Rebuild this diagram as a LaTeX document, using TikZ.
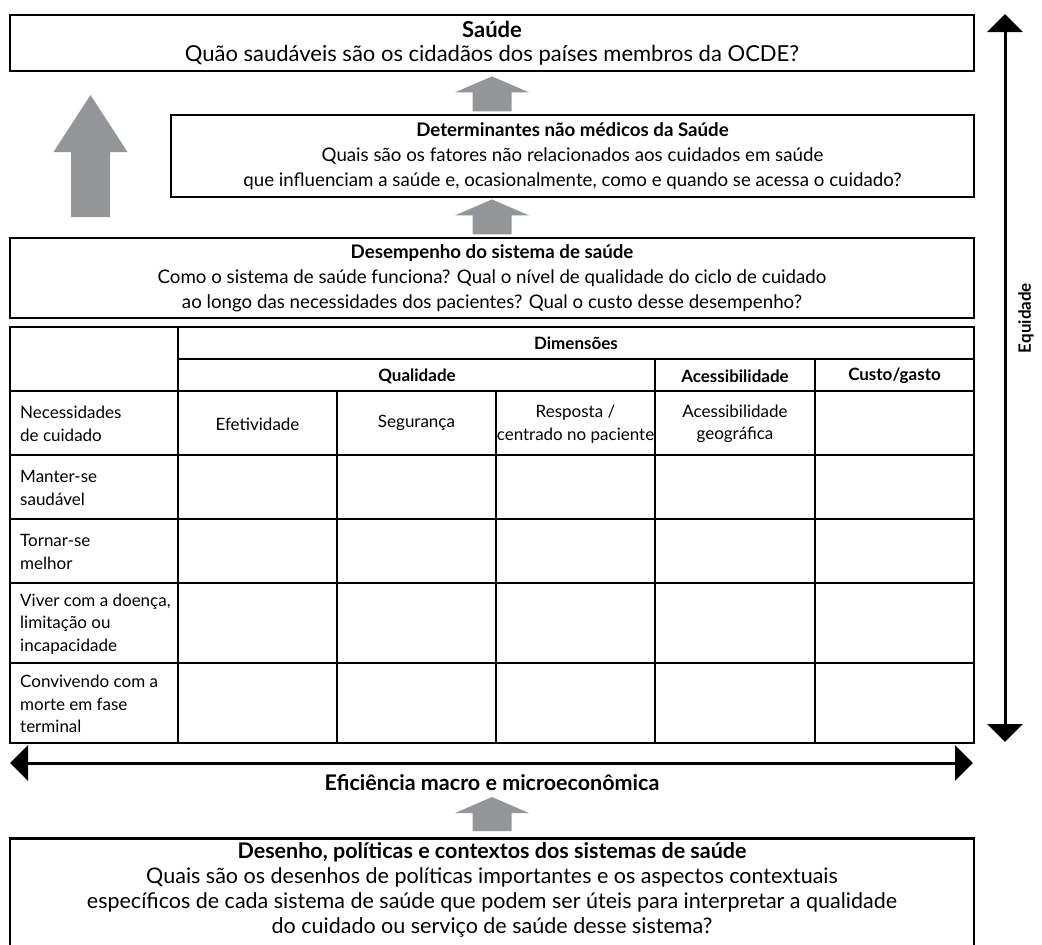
\documentclass[tikz,border=0pt]{standalone}
\usepackage{fontspec}
\setmainfont{Lato}
\usepackage{tikz}
\usetikzlibrary{arrows.meta,positioning,calc}
\definecolor{arrowgray}{RGB}{147,149,152}

\begin{document}
\begin{tikzpicture}[x=1pt, y=-1pt,
    box/.style={draw, line width=1.2pt, minimum width=964pt, inner sep=2pt, align=center,
                font=\fontsize{18.7}{25}\selectfont},
    thickbox/.style={box, line width=2.5pt},
    cell/.style={font=\fontsize{17}{22.5}\selectfont, align=center, inner sep=0pt},
    rowlabel/.style={cell, align=left, anchor=west},
    head/.style={cell, font=\fontsize{17}{22.5}\selectfont\bfseries},
    grid/.style={line width=1.3pt},
    axis/.style={{Triangle[width=35pt,length=18pt]}-{Triangle[width=35pt,length=18pt]}, line width=3pt},
    pics/uparrow/.style 2 args={code={
        \fill[arrowgray] (-19.5,0) -- (-19.5,-#1) -- (-37,-#1) -- (0,-#2)
            -- (37,-#1) -- (19.5,-#1) -- (19.5,0) -- cycle;}}
]
\useasboundingbox (0,0) rectangle (1042,945);

% upper blocks
\node[thickbox, minimum height=56pt, font=\fontsize{22}{24}\selectfont] (sau) at (492,43)
    {\textbf{Saúde}\\Quão saudáveis são os cidadãos dos países membros da OCDE?};
\node[box, minimum width=803pt, minimum height=82pt] (det) at (572.5,156)
    {\textbf{Determinantes não médicos da Saúde}\\
     Quais são os fatores não relacionados aos cuidados em saúde\\
     que influenciam a saúde e, ocasionalmente, como e quando se acessa o cuidado?};
\node[box, minimum height=80pt] (des) at (492,278)
    {\textbf{Desempenho do sistema de saúde}\\
     Como o sistema de saúde funciona? Qual o nível de qualidade do ciclo de cuidado\\
     ao longo das necessidades dos pacientes? Qual o custo desse desempenho?};

\pic at ($(det.north -| sau.south)+(0,-3)$) {uparrow={19}{35}};
\pic at ($(des.north -| sau.south)+(0,-3)$) {uparrow={19}{35}};
\pic at (90.5,217) {uparrow={65}{122}};

% table
\draw[grid] (10,327) rectangle (974,743);
\draw[grid] (178,327) -- (178,743);
\draw[grid] (178,359) -- (974,359);
\foreach \x in {337,496} \draw[grid] (\x,391) -- (\x,743);
\foreach \x in {655,815} \draw[grid] (\x,359) -- (\x,743);
\foreach \y in {391,455,519,583,663} \draw[grid] (10,\y) -- (974,\y);

\node[head] (dim) at (576,343) {Dimensões};
\node[head] (qual) at (417,376) {Qualidade};
\node[head] (acess) at (735,376) {Acessibilidade};
\node[head] (custo) at (894.5,376) {Custo/gasto};

\node[rowlabel] (nec) at (20,424) {Necessidades\\de cuidado};
\node[cell] (efet) at (257.5,424) {Efetividade};
\node[cell] (seg) at (416.5,423) {Segurança};
\node[cell] (resp) at (575.5,424) {Resposta /\\centrado no paciente};
\node[cell] (geo) at (735,424) {Acessibilidade\\geográfica};

\node[rowlabel] (mant) at (20,488) {Manter-se\\saudável};
\node[rowlabel] (torn) at (20,552) {Tornar-se\\melhor};
\node[rowlabel] (viv) at (20,624) {Viver com a doença,\\limitação ou\\incapacidade};
\node[rowlabel] (conv) at (20,704) {Convivendo com a\\morte em fase\\terminal};

% axes
\coordinate (eqtop) at (1005,14);
\coordinate (eqbot) at (1005,742);
\draw[axis] (eqtop) -- (eqbot);
\node[head, rotate=90] (eq) at (1026,318) {Equidade};

\coordinate (efl) at (10,763);
\coordinate (efr) at (973,763);
\draw[axis] (efl) -- (efr);
\node[font=\fontsize{21.5}{25}\selectfont\bfseries] (efi) at (492,783) {Eficiência macro e microeconômica};

% bottom block
\node[thickbox, minimum height=130pt, anchor=north] (dsn) at (492,837) {};
\node[align=center, font=\fontsize{21.5}{25}\selectfont] (dsntxt) at (492,890)
    {\textbf{Desenho, políticas e contextos dos sistemas de saúde}\\
     Quais são os desenhos de políticas importantes e os aspectos contextuais\\
     específicos de cada sistema de saúde que podem ser úteis para interpretar a qualidade\\
     do cuidado ou serviço de saúde desse sistema?};
\pic at ($(dsn.north)+(0,-6)$) {uparrow={18}{34}};
\end{tikzpicture}
\end{document}
